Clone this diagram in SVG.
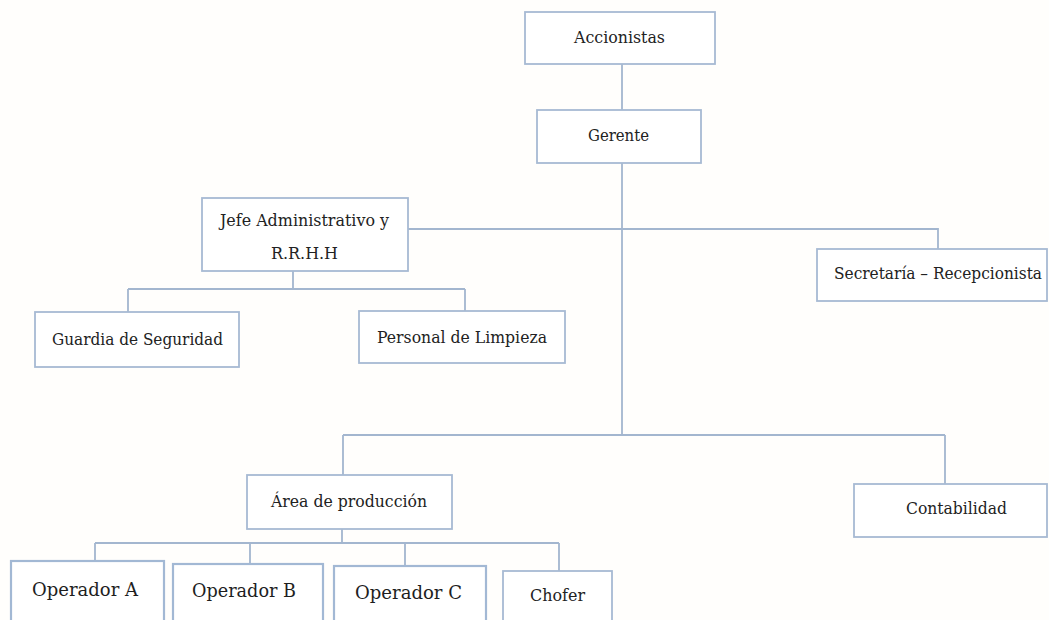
<svg xmlns="http://www.w3.org/2000/svg" width="1049" height="620" viewBox="0 0 1049 620">
<style>
.box{fill:#ffffff;stroke:#a7bad3;stroke-width:1.8}
.op{fill:#ffffff;stroke:#a2b8d4;stroke-width:2.2}
.ln{fill:none;stroke:#a3b6cf;stroke-width:1.8}
.t{font-family:'DejaVu Serif','Liberation Serif',serif;font-size:16px;fill:#222222}
.o{font-family:'DejaVu Serif','Liberation Serif',serif;font-size:19px;fill:#1e1e1e}
</style>
<rect width="1049" height="620" fill="#fffefc"/>
<g id="connectors">
<path class="ln" d="M622 64V110"/>
<path class="ln" d="M622 163V435"/>
<path class="ln" d="M408 229H938V249"/>
<path class="ln" d="M293 271V289M128 289H465M128 289V312M465 289V311"/>
<path class="ln" d="M343 435H945M343 435V475M945 435V484"/>
<path class="ln" d="M342 529V543M95 543H559M95 543V561M250 543V564M405 543V566M559 543V571"/>
</g>
<g id="n-accionistas"><rect class="box" x="525" y="12" width="190" height="52"/><text class="t" x="574" y="43" textLength="91" lengthAdjust="spacingAndGlyphs">Accionistas</text></g>
<g id="n-gerente"><rect class="box" x="537" y="110" width="164" height="53"/><text class="t" x="588" y="141" textLength="61" lengthAdjust="spacingAndGlyphs">Gerente</text></g>
<g id="n-jefe"><rect class="box" x="202" y="198" width="206" height="73"/><text class="t" x="220" y="226" textLength="169" lengthAdjust="spacingAndGlyphs">Jefe Administrativo y</text><text class="t" x="271" y="259" textLength="67" lengthAdjust="spacingAndGlyphs">R.R.H.H</text></g>
<g id="n-secretaria"><rect class="box" x="817" y="249" width="230" height="52"/><text class="t" x="834" y="279" textLength="208" lengthAdjust="spacingAndGlyphs">Secretaría – Recepcionista</text></g>
<g id="n-guardia"><rect class="box" x="35" y="312" width="204" height="55"/><text class="t" x="52" y="345" textLength="171" lengthAdjust="spacingAndGlyphs">Guardia de Seguridad</text></g>
<g id="n-limpieza"><rect class="box" x="359" y="311" width="206" height="52"/><text class="t" x="377" y="343" textLength="170" lengthAdjust="spacingAndGlyphs">Personal de Limpieza</text></g>
<g id="n-area"><rect class="box" x="247" y="475" width="205" height="54"/><text class="t" x="271" y="507" textLength="156" lengthAdjust="spacingAndGlyphs">Área de producción</text></g>
<g id="n-contabilidad"><rect class="box" x="854" y="484" width="193" height="53"/><text class="t" x="906" y="514" textLength="101" lengthAdjust="spacingAndGlyphs">Contabilidad</text></g>
<g id="n-opA"><rect class="op" x="11" y="561" width="153" height="70"/><text class="o" x="32" y="596" textLength="106" lengthAdjust="spacingAndGlyphs">Operador A</text></g>
<g id="n-opB"><rect class="op" x="173" y="564" width="150" height="70"/><text class="o" x="192" y="597" textLength="104" lengthAdjust="spacingAndGlyphs">Operador B</text></g>
<g id="n-opC"><rect class="op" x="334" y="566" width="152" height="70"/><text class="o" x="355" y="599" textLength="107" lengthAdjust="spacingAndGlyphs">Operador C</text></g>
<g id="n-chofer"><rect class="box" x="503" y="571" width="109" height="70"/><text class="t" x="530" y="601" textLength="55" lengthAdjust="spacingAndGlyphs">Chofer</text></g>
</svg>
